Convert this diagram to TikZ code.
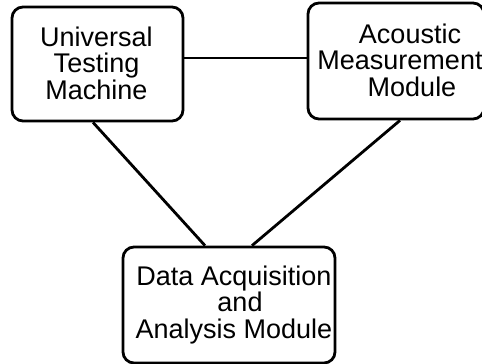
\documentclass[tikz,border=0pt]{standalone}
\usepackage{fontspec}
\setmainfont{Liberation Sans}
\begin{document}
\begin{tikzpicture}[x=1pt,y=1pt,
  blk/.style={draw, line width=2.8pt, rounded corners=11pt, inner sep=0pt},
  txt/.style={align=center, inner sep=0pt, font=\fontsize{27}{26.5}\selectfont},
  conn/.style={line width=2.8pt}]
\useasboundingbox (0,0) rectangle (482,364);
\node[blk, minimum width=171pt, minimum height=114pt] (utm) at (97.5,300) {};
\node[blk, minimum width=176pt, minimum height=116pt] (amm) at (396,303) {};
\node[blk, minimum width=212pt, minimum height=116pt] (daq) at (229,59) {};
\node[txt] (utmt) at ([xshift=-1pt,yshift=1pt]utm.center) {Universal\\Testing\\Machine};
\node[txt] (ammt) at ([xshift=4pt,yshift=1pt]amm.center) {\hspace*{20pt}Acoustic\\Measurement\\\hspace*{24pt}Module};
\node[txt] (daqt) at ([xshift=5pt]daq.center) {Data Acquisition\\\hspace*{12pt}and\\Analysis Module};
\draw[conn] ([yshift=6pt]utm.east) -- ([yshift=6pt]utm.east -| amm.west);
\draw[conn] ([xshift=-4.5pt]utm.south) -- ([xshift=-24pt]daq.north);
\draw[conn] ([xshift=4pt]amm.south) -- ([xshift=23pt]daq.north);
\end{tikzpicture}
\end{document}
